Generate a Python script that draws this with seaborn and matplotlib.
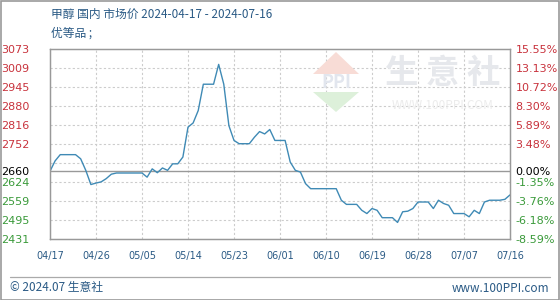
import numpy as np
import pandas as pd
import matplotlib
matplotlib.use("Agg")
import matplotlib.pyplot as plt
import matplotlib.dates as mdates
from matplotlib.patches import Polygon, Rectangle
import seaborn as sns

# ---- data ----
start_date = "2024-04-17"
prices = [2660, 2695, 2716, 2716, 2716, 2716, 2702, 2663, 2615, 2620,
          2624, 2635, 2650, 2654, 2654, 2654, 2654, 2654, 2654, 2640,
          2668, 2655, 2671, 2663, 2685, 2685, 2708, 2809, 2823, 2865,
          2954, 2954, 2954, 3021, 2954, 2814, 2764, 2753, 2753, 2753,
          2775, 2794, 2786, 2801, 2764, 2764, 2764, 2691, 2663, 2657,
          2618, 2601, 2601, 2601, 2601, 2601, 2601, 2562, 2548, 2548,
          2548, 2528, 2517, 2534, 2528, 2503, 2503, 2503, 2487, 2523,
          2525, 2534, 2556, 2556, 2556, 2534, 2562, 2551, 2545, 2517,
          2517, 2517, 2506, 2528, 2517, 2556, 2562, 2562, 2562, 2565, 2580]
base_price = 2660
left_ticks = [2431, 2495, 2559, 2624, 2660, 2752, 2816, 2880, 2945, 3009, 3073]
right_labels = ["-8.59%", "-6.18%", "-3.76%", "-1.35%", "0.00%", "3.48%",
                "5.89%", "8.30%", "10.72%", "13.13%", "15.55%"]
extra_grid = [2688]
x_tick_labels = ["04/17", "04/26", "05/05", "05/14", "05/23", "06/01",
                 "06/10", "06/19", "06/28", "07/07", "07/16"]
title = "甲醇 国内 市场价 2024-04-17 - 2024-07-16"
subtitle = "优等品 ;"
footer_left = "© 2024.07 生意社"
footer_right = "www.100PPI.com"

dates = pd.date_range(start_date, periods=len(prices), freq="D")
df = pd.DataFrame({"date": dates, "price": prices})

sns.set_theme(style="white")
plt.rcParams["font.family"] = ["Noto Sans CJK SC", "DejaVu Sans"]

fig = plt.figure(figsize=(5.6, 3.0), dpi=100)
fig.patch.set_facecolor("white")
ax = fig.add_axes([50 / 560, 61 / 300, 460 / 560, 190 / 300])

RED = "#c8323c"
GREEN = "#3a9a3a"
TXT = "#2a5a85"
GRID = "#cccccc"

# watermark
fig.text(443 / 560, 1 - 74 / 300, "生 意 社", fontsize=24, color="#e6e8ec",
         ha="center", va="center", fontweight="bold", zorder=0)
fig.text(443 / 560, 1 - 106 / 300, "WWW.100PPI.COM", fontsize=8.5, color="#ececec",
         ha="center", va="center", zorder=0)
tri1 = Polygon([[313 / 560, 1 - 74 / 300], [336 / 560, 1 - 52 / 300], [359 / 560, 1 - 74 / 300]],
               closed=True, transform=fig.transFigure, facecolor="#f8dcd6", edgecolor="none", zorder=0)
tri2 = Polygon([[313 / 560, 1 - 92 / 300], [336 / 560, 1 - 112 / 300], [359 / 560, 1 - 92 / 300]],
               closed=True, transform=fig.transFigure, facecolor="#ddf0da", edgecolor="none", zorder=0)
fig.patches.extend([tri1, tri2])
fig.text(336 / 560, 1 - 83 / 300, "PPI", fontsize=13, color="#e2e6ee", ha="center",
         va="center", fontweight="bold", zorder=0)
ax.set_facecolor("none")

sns.lineplot(data=df, x="date", y="price", ax=ax, color="#3f8ab5", linewidth=1.0, zorder=3)

ymin, ymax = left_ticks[0], left_ticks[-1]
ax.set_ylim(ymin, ymax)
ax.set_xlim(dates[0], dates[-1])

# grids
tick_dates = pd.date_range(start_date, periods=len(x_tick_labels), freq="9D")
for v in left_ticks[1:-1] + extra_grid:
    if v == base_price:
        continue
    ax.axhline(v, color=GRID, linestyle=(0, (2, 2)), linewidth=0.8, zorder=1)
for d in tick_dates[1:-1]:
    ax.axvline(d, color=GRID, linestyle=(0, (2, 2)), linewidth=0.8, zorder=1)
ax.axhline(base_price, color="#999999", linewidth=1.0, zorder=2)

ax.set_yticks(left_ticks)
ax.set_yticklabels([str(v) for v in left_ticks], fontsize=8, family=["DejaVu Sans"])
for lab, v in zip(ax.get_yticklabels(), left_ticks):
    lab.set_color(RED if v > base_price else ("black" if v == base_price else GREEN))
ax.tick_params(axis="y", length=0, pad=15)

ax2 = ax.twinx()
ax2.set_ylim(ymin, ymax)
ax2.set_yticks(left_ticks)
ax2.set_yticklabels(right_labels, fontsize=8, family=["DejaVu Sans"])
for lab, v in zip(ax2.get_yticklabels(), left_ticks):
    lab.set_color(RED if v > base_price else ("black" if v == base_price else GREEN))
ax2.tick_params(axis="y", length=0, pad=4)

ax.set_xticks(tick_dates)
ax.set_xticklabels(x_tick_labels, fontsize=7, color=TXT, family=["DejaVu Sans"])
ax.tick_params(axis="x", length=0, pad=9)
ax.set_xlabel("")
ax.set_ylabel("")

for a in (ax, ax2):
    for s in a.spines.values():
        s.set_color("#999999")
        s.set_linewidth(0.9)

fig.text(51 / 560, 1 - 14 / 300, title, fontsize=8.5, color=TXT, ha="left", va="center")
fig.text(51 / 560, 1 - 33 / 300, subtitle, fontsize=8.5, color=TXT, ha="left", va="center")

fig.add_artist(plt.Line2D([10 / 560, 550 / 560], [1 - 277 / 300, 1 - 277 / 300],
                          color="#aaaaaa", linewidth=0.9))
fig.text(10 / 560, 1 - 288 / 300, footer_left, fontsize=8.5, color=TXT, ha="left", va="center")
fig.text(549 / 560, 1 - 288 / 300, footer_right, fontsize=8.5, color=TXT, ha="right", va="center")
fig.add_artist(Rectangle((0.5 / 560, 0.5 / 300), 558.5 / 560, 298.5 / 300, transform=fig.transFigure,
                         fill=False, edgecolor="#999999", linewidth=1.2))

fig.savefig("out.png", dpi=100)
